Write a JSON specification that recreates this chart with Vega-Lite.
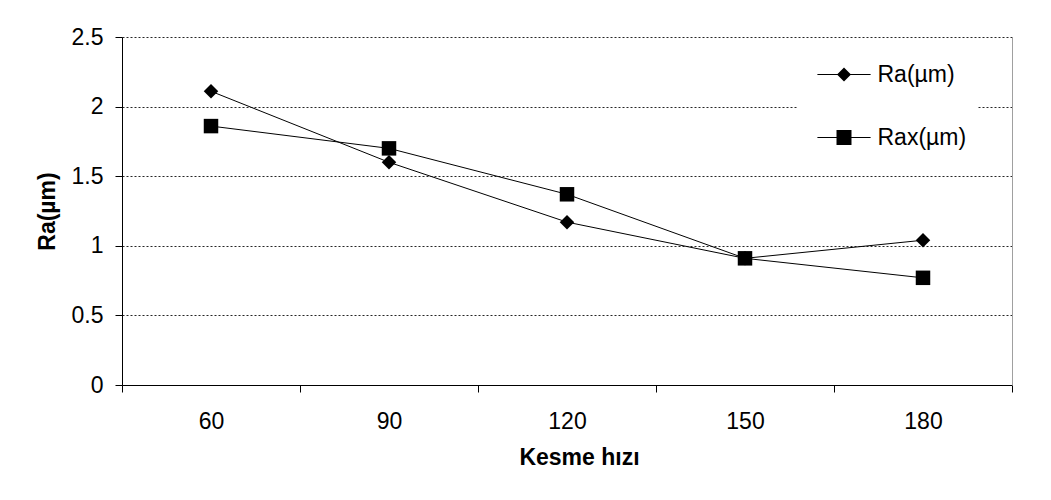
{
  "$schema": "https://vega.github.io/schema/vega-lite/v6.json",
  "autosize": "none",
  "width": 890,
  "height": 348,
  "padding": {"left": 122, "top": 37, "right": 39, "bottom": 115},
  "background": "white",
  "config": {
    "view": {"stroke": null},
    "font": "Liberation Sans",
    "axis": {"labelFont": "Liberation Sans", "titleFont": "Liberation Sans", "labelColor": "#000", "titleColor": "#000", "labelFontSize": 23, "titleFontSize": 23, "titleFontWeight": "bold", "domainColor": "#000", "tickColor": "#000", "domainWidth": 1, "tickWidth": 1}
  },
  "data": {
    "values": [
      {"speed": "60", "series": "Ra(µm)", "value": 2.11},
      {"speed": "90", "series": "Ra(µm)", "value": 1.60},
      {"speed": "120", "series": "Ra(µm)", "value": 1.17},
      {"speed": "150", "series": "Ra(µm)", "value": 0.91},
      {"speed": "180", "series": "Ra(µm)", "value": 1.04},
      {"speed": "60", "series": "Rax(µm)", "value": 1.86},
      {"speed": "90", "series": "Rax(µm)", "value": 1.70},
      {"speed": "120", "series": "Rax(µm)", "value": 1.37},
      {"speed": "150", "series": "Rax(µm)", "value": 0.91},
      {"speed": "180", "series": "Rax(µm)", "value": 0.77}
    ]
  },
  "layer": [
    {
      "encoding": {
        "x": {
          "field": "speed", "type": "ordinal", "sort": ["60", "90", "120", "150", "180"],
          "scale": {"type": "band", "paddingInner": 0, "paddingOuter": 0},
          "axis": {"title": "Kesme hızı", "tickBand": "extent", "labelAngle": 0, "tickSize": 7, "labelPadding": 18, "titlePadding": 13, "grid": false, "titleX": 457}
        },
        "y": {
          "field": "value", "type": "quantitative",
          "scale": {"domain": [0, 2.5], "nice": false},
          "axis": {"title": "Ra(µm)", "orient": "left", "values": [0, 0.5, 1, 1.5, 2, 2.5], "format": "~g", "tickSize": 7, "labelPadding": 12, "titlePadding": 12, "grid": true, "gridColor": "#000", "gridDash": [2, 2], "gridWidth": 1, "gridOpacity": 0.85}
        }
      },
      "layer": [
        {
          "mark": {"type": "line", "color": "#000", "strokeWidth": 1},
          "encoding": {"detail": {"field": "series", "type": "nominal"}}
        },
        {
          "mark": {"type": "point", "filled": true, "color": "#000", "opacity": 1, "size": 210},
          "encoding": {
            "shape": {
              "field": "series", "type": "nominal",
              "scale": {"domain": ["Ra(µm)", "Rax(µm)"], "range": ["diamond", "square"]},
              "legend": null
            }
          }
        },
        {
          "transform": [{"filter": "datum.value < 0"}],
          "mark": {"type": "point", "filled": true, "color": "#000", "opacity": 1, "size": 196},
          "encoding": {
            "shape": {
              "field": "series", "type": "nominal",
              "scale": {"domain": ["Ra(µm)", "Rax(µm)"], "range": ["M-3.8,-0.07L3.8,-0.07L3.8,0.07L-3.8,0.07ZM-1,0L0,-1L1,0L0,1Z", "M-3.8,-0.07L3.8,-0.07L3.8,0.07L-3.8,0.07ZM-1.07,-1.07L1.07,-1.07L1.07,1.07L-1.07,1.07Z"]},
              "legend": {
                "title": null,
                "orient": "none",
                "legendX": 676,
                "legendY": 16,
                "padding": 10,
                "fillColor": "white",
                "strokeColor": null,
                "symbolSize": 196,
                "symbolOffset": 24.5,
                "labelOffset": 22,
                "rowPadding": 39,
                "labelFont": "Liberation Sans",
                "labelFontSize": 23,
                "labelColor": "#000",
                "symbolFillColor": "#000",
                "symbolOpacity": 1
              }
            }
          }
        }
      ],
      "resolve": {"scale": {"shape": "independent"}}
    },
    {
      "mark": {"type": "point", "opacity": 0},
      "encoding": {
        "x": {"field": "speed", "type": "ordinal", "sort": ["60", "90", "120", "150", "180"], "scale": {"type": "band", "paddingInner": 0, "paddingOuter": 0}},
        "y": {
          "field": "value", "type": "quantitative",
          "scale": {"domain": [0, 2.5], "nice": false},
          "axis": {"orient": "right", "title": null, "labels": false, "ticks": false, "grid": false, "domainColor": "#a0a0a0"}
        }
      }
    }
  ],
  "resolve": {"scale": {"y": "independent"}}
}
